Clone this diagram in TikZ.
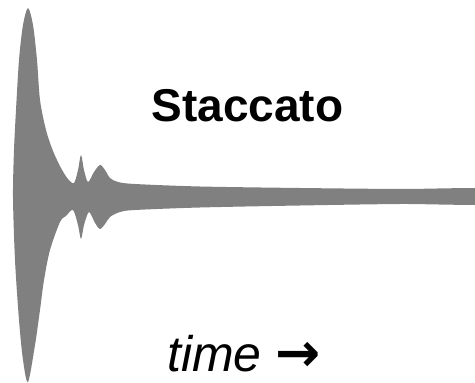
\documentclass[tikz,border=0pt]{standalone}
\usepackage{fontspec}
\setmainfont{Liberation Sans}
\newfontfamily\arrowfont{DejaVu Sans}
\definecolor{wavegray}{HTML}{808080}
\tikzset{
  wave/.style={fill=wavegray, draw=none},
  titletext/.style={font=\fontsize{46}{50}\selectfont\bfseries, inner sep=0pt, anchor=base},
  axistext/.style={font=\fontsize{50}{54}\selectfont, inner sep=0pt, text depth=0pt, anchor=base west}
}
\begin{document}
\begin{tikzpicture}
\useasboundingbox (0,0) rectangle (475pt,383pt);
\begin{scope}[x=1pt,y=-1pt,yshift=383pt]
\fill[wave] plot[smooth cycle, tension=0.5] coordinates {
 (13,197) (14,150) (16,110) (19,60) (23,25) (28,8) (33,25) (37,60) (40,100) (46,130) (53,151) (61,168) (68,179) (74,183)
 (78,170) (81,155) (84,170) (88,182) (94,172) (100,165) (105,170) (110,178) (118,182) (135,184) (200,186.5) (300,188) (400,189) (490,189)
 (490,204) (400,204) (300,205.5) (200,207.5) (135,210) (120,212) (110,217) (105,224) (100,229) (95,223) (89,212)
 (84,225) (81,239) (78,225) (73,210) (66,216) (60,222) (50,250) (44,280) (40,310) (35,345) (28,382) (23,360) (19,320) (15,260)
};
\node[titletext] (title) at (247.5,122) {Staccato};
\node[axistext] (axis) at (167,372) {\itshape time {\upshape\arrowfont\bfseries\fontsize{54}{58}\selectfont →}};
\end{scope}
\end{tikzpicture}
\end{document}
